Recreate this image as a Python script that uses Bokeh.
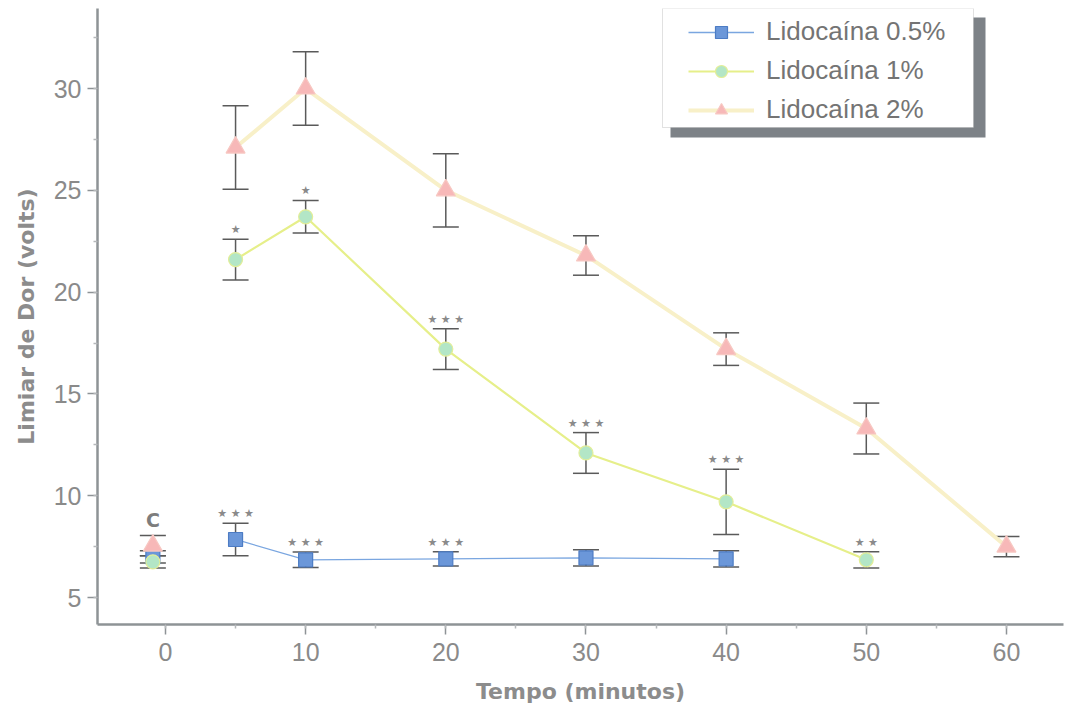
from bokeh.plotting import figure
from bokeh.models import (ColumnDataSource, Whisker, TeeHead, Legend, LegendItem,
                          BoxAnnotation, SingleIntervalTicker, Range1d)
from bokeh.core.properties import value
from bokeh.embed import file_html
from bokeh.resources import INLINE

# --- data: pain threshold (volts) vs time (minutes), mean and error ---
tempo_05 = [5, 10, 20, 30, 40]
lido_05 = [7.85, 6.85, 6.9, 6.95, 6.9]
erro_05 = [0.8, 0.38, 0.35, 0.4, 0.4]
sig_05 = ["★ ★ ★", "★ ★ ★", "★ ★ ★", "", ""]

tempo_1 = [5, 10, 20, 30, 40, 50]
lido_1 = [21.6, 23.7, 17.2, 12.1, 9.7, 6.85]
erro_1 = [1.0, 0.8, 1.0, 1.0, 1.6, 0.4]
sig_1 = ["★", "★", "★ ★ ★", "★ ★ ★", "★ ★ ★", "★ ★"]

tempo_2 = [5, 10, 20, 30, 40, 50, 60]
lido_2 = [27.1, 30.0, 25.0, 21.8, 17.2, 13.3, 7.5]
erro_2 = [2.05, 1.8, 1.8, 0.97, 0.8, 1.25, 0.5]

# control measurements (baseline "C")
controle_x = -0.9
controle_05 = [7.0, 0.3]
controle_1 = [6.75, 0.3]
controle_2 = [7.55, 0.5]
controle_rotulo = "C"

series_names = ["Lidocaína 0.5%", "Lidocaína 1%", "Lidocaína 2%"]

# --- layout ---
W, H = 1066, 711
LEFT, RIGHT, TOP, BOTTOM = 97, 3, 8, 87
X0, X1 = -4.85, 64.07
Y0, Y1 = 3.674, 33.93
FW = W - LEFT - RIGHT
FH = H - TOP - BOTTOM


def sx(px):
    return X0 + (px - LEFT) * (X1 - X0) / FW


def sy(py):
    return Y1 - (py - TOP) * (Y1 - Y0) / FH


grey_axis = "#8e9396"
grey_text = "#8a8a8a"

p = figure(width=W, height=H, output_backend="svg", toolbar_location=None,
           x_range=Range1d(X0, X1), y_range=Range1d(Y0, Y1),
           min_border_left=LEFT, min_border_right=RIGHT,
           min_border_top=TOP, min_border_bottom=BOTTOM,
           x_axis_label="Tempo (minutos)", y_axis_label="Limiar de Dor (volts)")
p.outline_line_color = None
p.grid.visible = False
p.background_fill_color = "white"
p.border_fill_color = "white"

p.xaxis.ticker = SingleIntervalTicker(interval=10, num_minor_ticks=2)
p.yaxis.ticker = SingleIntervalTicker(interval=5, num_minor_ticks=2)
for ax in (p.xaxis, p.yaxis):
    ax.axis_line_color = grey_axis
    ax.axis_line_width = 2.5
    ax.major_tick_line_color = grey_axis
    ax.major_tick_line_width = 1.5
    ax.major_tick_out = 10
    ax.major_tick_in = 0
    ax.minor_tick_line_color = "#b5b8ba"
    ax.minor_tick_line_width = 1.5
    ax.minor_tick_out = 4
    ax.minor_tick_in = 0
    ax.major_label_text_font = "Liberation Sans"
    ax.major_label_text_font_size = "25px"
    ax.major_label_text_color = grey_text
    ax.axis_label_text_font = "DejaVu Sans"
    ax.axis_label_text_font_style = "bold"
    ax.axis_label_text_font_size = "22px"
    ax.axis_label_text_color = "#8c8c8c"
p.xaxis.major_label_standoff = 8
p.xaxis.axis_label_standoff = 15
p.yaxis.major_label_standoff = 6
p.yaxis.axis_label_standoff = 12

styles = [
    dict(marker="square", size=14, fill="#6b97d9", line="#4d7cc4",
         lcolor="#7aa6e0", lwidth=1.3),
    dict(marker="circle", size=14, fill="#b3e6c6", line="#e2ee98",
         lcolor="#e6ef8a", lwidth=2.2),
    dict(marker="triangle", size=19, fill="#f7b8b8", line="#f7c8c2",
         lcolor="#f8f0c8", lwidth=4),
]

data = [
    (tempo_05, lido_05, erro_05, sig_05, controle_05),
    (tempo_1, lido_1, erro_1, sig_1, controle_1),
    (tempo_2, lido_2, erro_2, None, controle_2),
]

items = []
for name, (t, m, e, sig, ctrl), st in zip(series_names, data, styles):
    xs = [controle_x] + list(t)
    ys = [ctrl[0]] + list(m)
    es = [ctrl[1]] + list(e)
    src = ColumnDataSource(dict(
        x=xs, y=ys,
        lo=[a - b for a, b in zip(ys, es)],
        hi=[a + b for a, b in zip(ys, es)],
    ))
    line_src = ColumnDataSource(dict(x=list(t), y=list(m)))
    ln = p.line("x", "y", source=line_src, line_color=st["lcolor"],
                line_width=st["lwidth"])
    wk = Whisker(base="x", lower="lo", upper="hi", source=src,
                 line_color="#5a5a5a", line_width=1.5,
                 upper_head=TeeHead(size=26, line_color="#5a5a5a", line_width=1.5),
                 lower_head=TeeHead(size=26, line_color="#5a5a5a", line_width=1.5))
    p.add_layout(wk)
    mk = p.scatter("x", "y", source=src, marker=st["marker"], size=st["size"],
                   fill_color=st["fill"], line_color=st["line"], line_width=1.2)
    items.append(LegendItem(label=name, renderers=[ln, mk]))
    if sig is not None:
        ssrc = ColumnDataSource(dict(
            x=list(t), y=[a + b for a, b in zip(m, e)], txt=list(sig)))
        p.text("x", "y", text="txt", source=ssrc, text_font=value("DejaVu Sans"),
               text_font_size="11px", text_color="#8a8a8a", text_align="center",
               text_baseline="bottom", y_offset=-3)

# control label above the baseline points
p.text(x=[controle_x], y=[controle_2[0] + controle_2[1]], text=[controle_rotulo],
       text_font=value("DejaVu Sans"), text_font_style="bold",
       text_font_size="19px", text_color="#7d7d7d", text_align="center",
       text_baseline="bottom", y_offset=-4)

# legend frame with drop shadow
shadow = BoxAnnotation(left=sx(670), right=sx(985), top=sy(17), bottom=sy(137),
                       fill_color="#7d8287", fill_alpha=1, line_color=None,
                       level="overlay")
box = BoxAnnotation(left=sx(662), right=sx(973), top=sy(8), bottom=sy(127),
                    fill_color="white", fill_alpha=1, line_color="#9a9a9a",
                    line_width=1, level="overlay")
p.add_layout(shadow)
p.add_layout(box)

legend = Legend(items=items, location=(688 - LEFT, H - BOTTOM - 125),
                padding=10, margin=0, spacing=8,
                glyph_width=66, glyph_height=30, label_height=30,
                label_standoff=12,
                label_text_font="Liberation Sans", label_text_font_size="26px",
                label_text_color="#747474",
                background_fill_alpha=0, border_line_color=None)
p.add_layout(legend, "center")

open("out.html", "w").write(file_html(p, INLINE))
